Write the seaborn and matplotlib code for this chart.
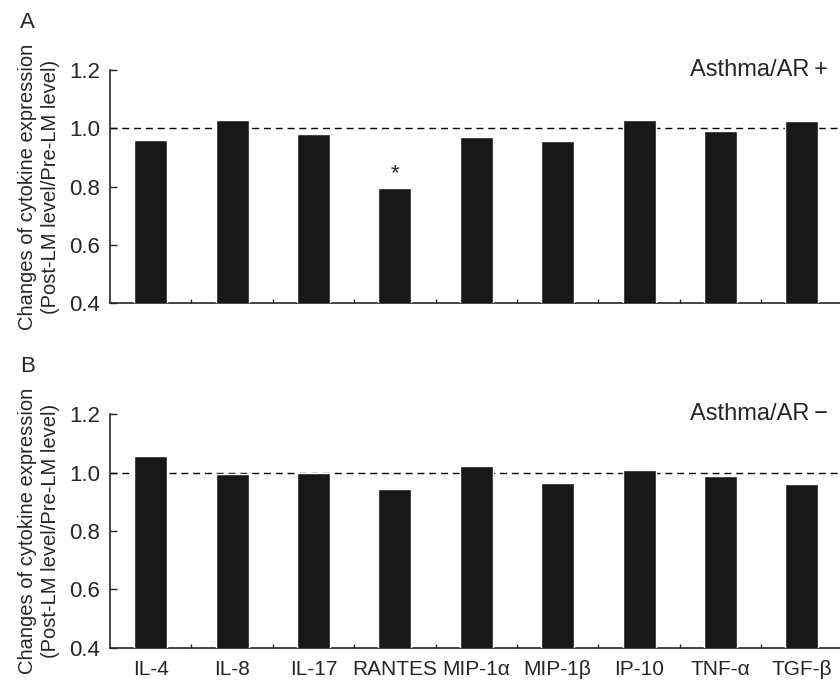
import matplotlib
matplotlib.use("Agg")
import matplotlib.pyplot as plt
import numpy as np
import pandas as pd
import seaborn as sns

# cytokines on the x-axis
cytokines = ["IL-4", "IL-8", "IL-17", "RANTES", "MIP-1α", "MIP-1β", "IP-10", "TNF-α", "TGF-β"]

# post-LM / pre-LM ratios
ratio_ar_pos = [0.96, 1.03, 0.98, 0.795, 0.97, 0.955, 1.03, 0.99, 1.025]
ratio_ar_neg = [1.057, 0.997, 1.0, 0.943, 1.022, 0.966, 1.011, 0.99, 0.963]

panel_letters = ["A", "B"]
group_labels = ["Asthma/AR\u2009+", "Asthma/AR\u2009−"]
significant = ["RANTES"]  # starred in panel A only

sns.set_style("ticks")
plt.rcParams["font.family"] = ["Liberation Sans", "DejaVu Sans"]

fig = plt.figure(figsize=(8.4, 6.8), dpi=100)
ax_a = fig.add_axes([0.131, 0.554, 0.872, 0.343])
ax_b = fig.add_axes([0.131, 0.0475, 0.872, 0.343])

bar_color = "#181818"

for ax, vals, letter, grp, show_x in [(ax_a, ratio_ar_pos, panel_letters[0], group_labels[0], False),
                                      (ax_b, ratio_ar_neg, panel_letters[1], group_labels[1], True)]:
    df = pd.DataFrame({"cytokine": cytokines, "ratio": vals})
    sns.barplot(data=df, x="cytokine", y="ratio", color=bar_color, width=0.405,
                saturation=1, ax=ax, zorder=3)
    ax.set_ylim(0.4, 1.2)
    ax.set_xlim(-0.5, len(cytokines) - 0.5)
    ax.set_yticks([0.4, 0.6, 0.8, 1.0, 1.2])
    ax.set_yticklabels(["0.4", "0.6", "0.8", "1.0", "1.2"], fontsize=16)
    ax.axhline(1.0, color="black", lw=1, ls=(0, (5, 3.5)), zorder=2)
    ax.set_xlabel("")
    ax.set_ylabel("Changes of cytokine expression\n(Post-LM level/Pre-LM level)",
                  fontsize=14.5, linespacing=1.25)
    ax.yaxis.set_label_coords(-0.068, 0.5)
    ax.tick_params(axis="y", direction="in", length=5, width=1, pad=7)
    ax.tick_params(axis="x", which="major", length=0, pad=9, labelsize=15)
    ax.set_xticks(np.arange(len(cytokines) - 1) + 0.5, minor=True)
    ax.tick_params(axis="x", which="minor", direction="in", length=3, width=1)
    if not show_x:
        ax.set_xticklabels([])
    sns.despine(ax=ax)
    for s in ["left", "bottom"]:
        ax.spines[s].set_linewidth(1.2)
    ax.text(0.98, 1.0, grp, transform=ax.transAxes, ha="right", va="center", fontsize=17)
    fig.text(0.033, ax.get_position().y1 + 0.07, letter, ha="center", va="center", fontsize=16)

# significance star over RANTES in panel A
for i, c in enumerate(cytokines):
    if c in significant:
        ax_a.annotate("*", (i, ratio_ar_pos[i]), xytext=(0, 3), textcoords="offset points",
                      ha="center", va="bottom", fontsize=16)

fig.savefig("out.png", dpi=100)
